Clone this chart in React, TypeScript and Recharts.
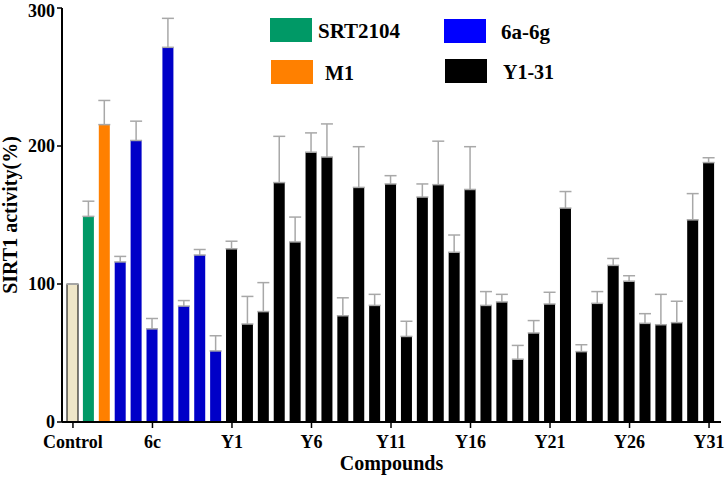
import { BarChart, Bar, XAxis, YAxis, ErrorBar, Cell } from 'recharts'

const names = [
  'Control', 'SRT2104', 'M1',
  '6a', '6b', '6c', '6d', '6e', '6f', '6g',
  'Y1', 'Y2', 'Y3', 'Y4', 'Y5', 'Y6', 'Y7', 'Y8', 'Y9', 'Y10',
  'Y11', 'Y12', 'Y13', 'Y14', 'Y15', 'Y16', 'Y17', 'Y18', 'Y19', 'Y20',
  'Y21', 'Y22', 'Y23', 'Y24', 'Y25', 'Y26', 'Y27', 'Y28', 'Y29', 'Y30', 'Y31',
]
const activity = [
  100, 149, 215.5,
  116, 204, 67.5, 271.5, 84, 121, 51.5,
  125.5, 71, 80, 173.5, 130.5, 195.5, 192, 77, 170, 84.5,
  172.5, 62, 163, 172, 123, 168.5, 84.5, 87, 45.5, 64.5,
  85.5, 155, 51, 86, 113.5, 102, 71.5, 70.5, 72, 146.5, 188,
]
const sem = [
  0, 11, 17.5,
  4, 14, 7.5, 21, 4, 4, 11,
  5.5, 20, 21, 33.5, 18, 14, 24, 13, 29.5, 8,
  6, 11, 9.5, 31.5, 12.5, 31, 10, 5.5, 10, 9,
  8.5, 12, 5, 8.5, 5, 4, 7, 22, 15.5, 19, 3.5,
]
const groups = ['control', 'srt', 'm1', ...Array(7).fill('6'), ...Array(31).fill('y')]

const FILL: Record<string, string> = {
  control: '#efe6c8',
  srt: '#009966',
  m1: '#ff8000',
  '6': '#0000c8',
  y: '#000000',
}

const legendItems = [
  { label: 'SRT2104', color: '#009966', left: 270, top: 18, tx: 318, size: 21 },
  { label: 'M1', color: '#ff8000', left: 271, top: 60, tx: 325, size: 20 },
  { label: '6a-6g', color: '#0000ff', left: 444, top: 19, tx: 501, size: 21 },
  { label: 'Y1-31', color: '#000000', left: 445, top: 59, tx: 503, size: 20 },
]

const data = names.map((name, i) => ({
  name,
  value: activity[i],
  err: [0, sem[i]],
  group: groups[i],
}))

const font = 'Liberation Serif, Times New Roman, serif'
const tickStyle = { fontFamily: font, fontWeight: 'bold', fontSize: 18, fill: '#000' }

export default function App() {
  return (
    <div style={{ position: 'absolute', left: 0, top: 0, width: 726, height: 477, background: '#fff' }}>
      <BarChart
        width={726}
        height={477}
        data={data}
        margin={{ top: 8, right: 5, bottom: 0, left: 0 }}
        barSize={11}
        barGap={-11}
      >
        <XAxis
          dataKey="name"
          interval={4}
          height={55}
          padding={{ left: 3, right: 4 }}
          tick={tickStyle}
          tickSize={6}
          tickMargin={7}
          axisLine={{ stroke: '#000', strokeWidth: 2 }}
          tickLine={{ stroke: '#000', strokeWidth: 1.5 }}
          label={{
            value: 'Compounds',
            position: 'insideBottom',
            offset: 7,
            style: { fontFamily: font, fontWeight: 'bold', fontSize: 20, fill: '#000' },
          }}
        />
        <YAxis
          width={62}
          domain={[0, 300]}
          ticks={[0, 100, 200, 300]}
          tick={tickStyle}
          tickSize={5}
          tickMargin={2}
          axisLine={{ stroke: '#000', strokeWidth: 2 }}
          tickLine={{ stroke: '#000', strokeWidth: 1.5 }}
          label={{
            value: 'SIRT1 activity(%)',
            angle: -90,
            position: 'insideLeft',
            offset: 10,
            style: { fontFamily: font, fontWeight: 'bold', fontSize: 20, fill: '#000', textAnchor: 'middle' },
          }}
        />
        <Bar dataKey="value" fill="none" isAnimationActive={false}>
          <ErrorBar dataKey="err" direction="y" width={6} stroke="#a8a8a8" strokeWidth={1.5} isAnimationActive={false} />
        </Bar>
        <Bar dataKey="value" isAnimationActive={false}>
          {data.map((d, i) => (
            <Cell
              key={`cell-${i}`}
              fill={FILL[d.group]}
              stroke={d.group === 'control' ? '#000' : 'none'}
              strokeWidth={1}
            />
          ))}
        </Bar>
      </BarChart>
      {legendItems.map((it) => (
        <div key={it.label}>
          <div
            style={{
              position: 'absolute', left: it.left, top: it.top, width: 42, height: 24,
              background: it.color,
            }}
          />
          <div
            style={{
              position: 'absolute', left: it.tx, top: it.top + 1, height: 24, lineHeight: '24px',
              fontFamily: font, fontWeight: 'bold', fontSize: it.size, color: '#000',
            }}
          >
            {it.label}
          </div>
        </div>
      ))}
    </div>
  )
}
